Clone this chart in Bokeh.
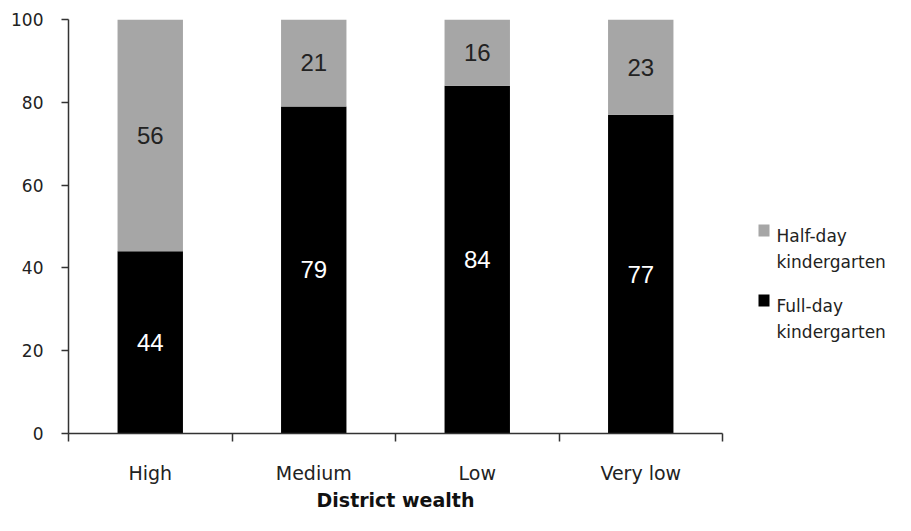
import numpy as np
from bokeh.plotting import figure
from bokeh.layouts import row
from bokeh.models import Range1d, FixedTicker, Label
from bokeh.core.properties import value
from bokeh.embed import file_html
from bokeh.resources import INLINE

categories = ["High", "Medium", "Low", "Very low"]
full_day = [44, 79, 84, 77]
half_day = [56, 21, 16, 23]
y_ticks = [0, 20, 40, 60, 80, 100]
legend_labels = [["Half-day", "kindergarten"], ["Full-day", "kindergarten"]]

GREY = "#a6a6a6"
BLACK = "#000000"
FONT = "DejaVu Sans"
NUM_FONT = "Liberation Sans"
TXT = "#222222"
AX = "#333333"

n = len(categories)
centers = [i + 0.5 for i in range(n)]
full = np.array(full_day, dtype=float)
half = np.array(half_day, dtype=float)
total = full + half

TOP, FRAME_H, H = 19, 414, 515
MAIN_W = 726
p = figure(width=MAIN_W, height=H,
           x_range=Range1d(0, n), y_range=Range1d(0, 100),
           output_backend="svg", toolbar_location=None,
           min_border_left=68, min_border_right=MAIN_W - 68 - 654,
           min_border_top=TOP, min_border_bottom=H - TOP - FRAME_H)
p.outline_line_color = None
p.xgrid.visible = False
p.ygrid.visible = False

p.vbar(x=centers, width=0.4, bottom=0, top=full, fill_color=BLACK, line_color=None)
p.vbar(x=centers, width=0.4, bottom=full, top=total, fill_color=GREY, line_color=None)

for i in range(n):
    p.add_layout(Label(x=centers[i], y=full[i] / 2, text=str(full_day[i]),
                       text_align="center", text_baseline="middle",
                       text_color="white", text_font=NUM_FONT, text_font_size="24px"))
    p.add_layout(Label(x=centers[i], y=full[i] + half[i] / 2, text=str(half_day[i]),
                       text_align="center", text_baseline="middle",
                       text_color=TXT, text_font=NUM_FONT, text_font_size="24px"))

# x axis
xa = p.xaxis[0]
xa.ticker = FixedTicker(ticks=centers, minor_ticks=list(range(n + 1)))
xa.major_label_overrides = {c: lab for c, lab in zip(centers, categories)}
xa.major_tick_line_color = None
xa.major_tick_out = 0
xa.major_tick_in = 0
xa.minor_tick_out = 8
xa.minor_tick_in = 0
xa.minor_tick_line_color = AX
xa.minor_tick_line_width = 1.5
xa.axis_line_color = AX
xa.axis_line_width = 1.5
xa.major_label_text_font = FONT
xa.major_label_text_font_size = "19px"
xa.major_label_text_color = TXT
xa.major_label_standoff = 20
xa.axis_label = "District wealth"
xa.axis_label_text_font = FONT
xa.axis_label_text_font_style = "bold"
xa.axis_label_text_font_size = "19px"
xa.axis_label_text_color = "#111111"
xa.axis_label_standoff = 2

# y axis
ya = p.yaxis[0]
ya.ticker = FixedTicker(ticks=y_ticks)
ya.major_tick_out = 7
ya.major_tick_in = 0
ya.minor_tick_line_color = None
ya.major_tick_line_color = AX
ya.major_tick_line_width = 1.5
ya.axis_line_color = AX
ya.axis_line_width = 1.5
ya.major_label_text_font = FONT
ya.major_label_text_font_size = "17px"
ya.major_label_text_color = TXT
ya.major_label_standoff = 18

# legend panel: frame aligned with the main frame; coordinates in page pixels
LW = 895 - MAIN_W
lg = figure(width=LW, height=H,
            x_range=Range1d(MAIN_W, MAIN_W + LW), y_range=Range1d(TOP + FRAME_H, TOP),
            output_backend="svg", toolbar_location=None,
            x_axis_type=None, y_axis_type=None,
            min_border_left=0, min_border_right=0,
            min_border_top=TOP, min_border_bottom=H - TOP - FRAME_H)
lg.outline_line_color = None
lg.xgrid.visible = False
lg.ygrid.visible = False

colors = [GREY, BLACK]
first_baselines = [235, 305]
line_gap = 26
sq_left, txt_left = 758, 776
lg.rect(x=[sq_left + 5.5] * 2, y=[b - 5 for b in first_baselines], width=11, height=12,
        fill_color=colors, line_color=None)
txt_x, txt_y, txt = [], [], []
for (l1, l2), b in zip(legend_labels, first_baselines):
    txt_x += [txt_left, txt_left]
    txt_y += [b, b + line_gap]
    txt += [l1, l2]
lg.text(x=txt_x, y=txt_y, text=txt, text_baseline="alphabetic", text_align="left",
        text_font=value(FONT), text_font_size="17px", text_color=TXT)

layout = row(p, lg)
open("out.html", "w").write(file_html(layout, INLINE))
